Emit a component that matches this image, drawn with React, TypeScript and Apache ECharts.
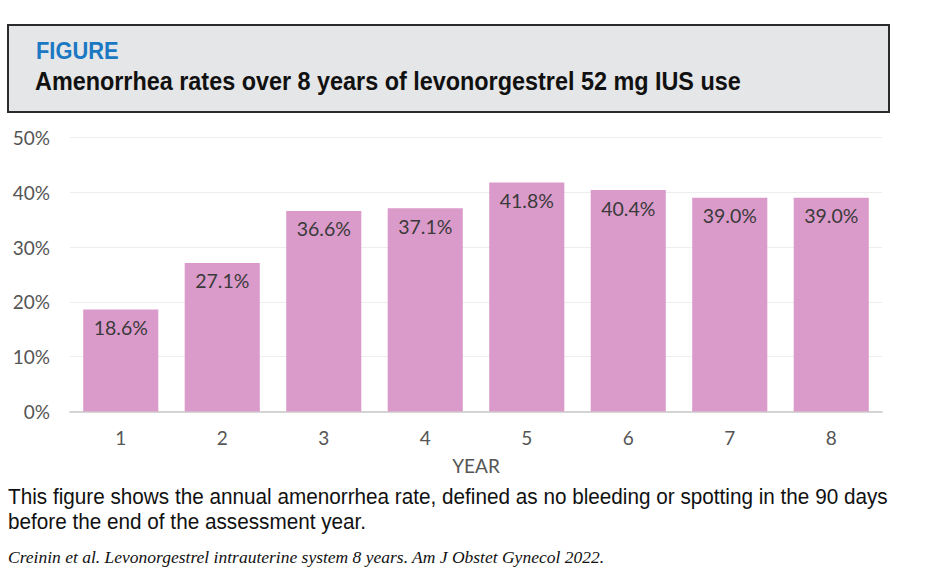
import React, { useEffect, useRef } from "react";
import * as echarts from "echarts";

const years = ["1", "2", "3", "4", "5", "6", "7", "8"];
const rates = [18.6, 27.1, 36.6, 37.1, 41.8, 40.4, 39.0, 39.0];
const yTicks = { min: 0, max: 50, interval: 10 };

const figureLabel = "FIGURE";
const titleText = "Amenorrhea rates over 8 years of levonorgestrel 52 mg IUS use";
const captionLine1 = "This figure shows the annual amenorrhea rate, defined as no bleeding or spotting in the 90 days";
const captionLine2 = "before the end of the assessment year.";
const citation = "Creinin et al. Levonorgestrel intrauterine system 8 years. Am J Obstet Gynecol 2022.";

const axisFont = "Lato, 'DejaVu Sans', sans-serif";
const narrowFont = "'Liberation Sans Narrow', 'Arial Narrow', 'Liberation Sans', sans-serif";

export default function App() {
  const ref = useRef<HTMLDivElement>(null);
  useEffect(() => {
    document.body.style.margin = "0";
    const chart = echarts.init(ref.current!, null, { renderer: "svg" });
    chart.setOption({
      animation: false,
      backgroundColor: "#ffffff",
      grid: { left: 70, right: 44, top: 137.5, bottom: 168.5, containLabel: false },
      xAxis: {
        type: "category",
        data: years,
        name: "YEAR",
        nameLocation: "middle",
        nameGap: 44,
        nameTextStyle: { fontFamily: axisFont, fontSize: 19, color: "#555555" },
        axisLine: { show: true, lineStyle: { color: "#c8c8c8", width: 1.5 } },
        axisTick: { show: false },
        axisLabel: { fontFamily: axisFont, fontSize: 19, color: "#555555", margin: 16 },
      },
      yAxis: {
        type: "value",
        min: yTicks.min,
        max: yTicks.max,
        interval: yTicks.interval,
        axisLine: { show: false },
        axisTick: { show: false },
        splitLine: { lineStyle: { color: "#eeeeee", width: 1 } },
        axisLabel: {
          fontFamily: axisFont,
          fontSize: 19,
          color: "#555555",
          margin: 20,
          formatter: (v: number) => `${v}%`,
        },
      },
      series: [
        {
          type: "bar",
          data: rates,
          barCategoryGap: "26%",
          itemStyle: { color: "#da9bca" },
          label: {
            show: true,
            position: "insideTop",
            distance: 8,
            fontFamily: axisFont,
            fontSize: 19.5,
            color: "#3a3a3a",
            formatter: (p: any) => `${Number(p.value).toFixed(1)}%`,
          },
        },
      ],
      graphic: [
        {
          type: "rect",
          shape: { x: 8, y: 25, width: 881, height: 87 },
          style: { fill: "#e5e6e7", stroke: "#2b2b2b", lineWidth: 2 },
        },
        {
          type: "text",
          x: 36,
          y: 51,
          scaleX: 0.95,
          style: {
            text: figureLabel,
            fill: "#1b78c2",
            font: `bold 23px ${narrowFont}`,
            textVerticalAlign: "middle",
          },
        },
        {
          type: "text",
          x: 35,
          y: 81,
          scaleX: 0.9,
          style: {
            text: titleText,
            fill: "#111111",
            font: `bold 26px ${narrowFont}`,
            textVerticalAlign: "middle",
          },
        },
        {
          type: "text",
          x: 8,
          y: 497,
          scaleX: 0.942,
          style: {
            text: captionLine1,
            fill: "#111111",
            font: `22px ${narrowFont}`,
            textVerticalAlign: "middle",
          },
        },
        {
          type: "text",
          x: 8,
          y: 522,
          scaleX: 0.942,
          style: {
            text: captionLine2,
            fill: "#111111",
            font: `22px ${narrowFont}`,
            textVerticalAlign: "middle",
          },
        },
        {
          type: "text",
          x: 8,
          y: 557,
          style: {
            text: citation,
            fill: "#111111",
            font: `italic 17.5px 'Liberation Serif', 'DejaVu Serif', serif`,
            textVerticalAlign: "middle",
          },
        },
      ],
    });
    return () => chart.dispose();
  }, []);
  return <div ref={ref} style={{ width: 926, height: 580 }} />;
}
